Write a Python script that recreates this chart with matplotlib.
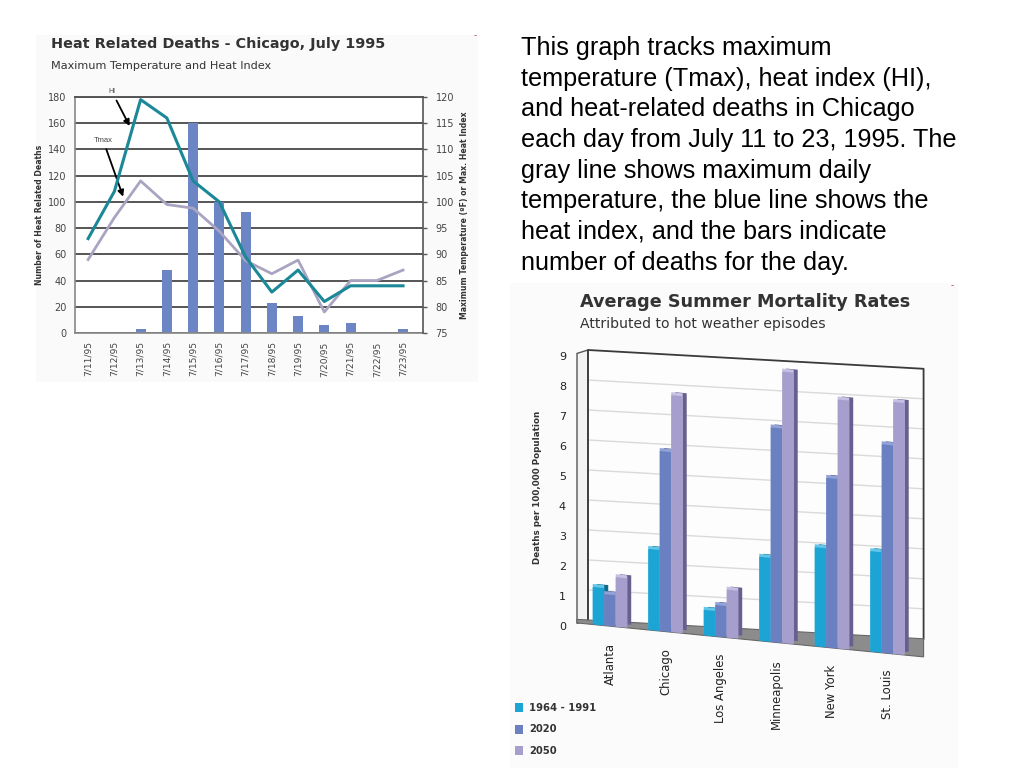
import numpy as np
import matplotlib
matplotlib.use("Agg")
import matplotlib.pyplot as plt
import matplotlib.transforms as mtransforms
from matplotlib.patches import Polygon, Patch, Rectangle

plt.rcParams['font.family'] = ['Liberation Sans', 'DejaVu Sans']

# ── chart 1: Chicago, July 1995 ───────────────────────────
days = ["7/11/95", "7/12/95", "7/13/95", "7/14/95", "7/15/95", "7/16/95", "7/17/95",
        "7/18/95", "7/19/95", "7/20/95", "7/21/95", "7/22/95", "7/23/95"]
deaths = [0, 0, 3, 48, 160, 100, 92, 23, 13, 6, 8, 0, 3]
heat_index = [93, 102, 119.5, 116, 104, 100, 89.5, 82.8, 87, 81, 84, 84, 84]
tmax = [89, 97, 104, 99.5, 98.8, 94.4, 88.8, 86.3, 88.9, 79, 85, 85, 87]

# ── chart 2: average summer mortality ─────────────────────
cities = ["Atlanta", "Chicago", "Los Angeles", "Minneapolis", "New York", "St. Louis"]
periods = ["1964 - 1991", "2020", "2050"]
rate_1964 = [1.25, 2.7, 0.85, 2.8, 3.3, 3.35]
rate_2020 = [1.05, 6.0, 1.05, 7.15, 5.65, 6.95]
rate_2050 = [1.65, 7.9, 1.6, 9.05, 8.3, 8.4]

caption = ("This graph tracks maximum\n"
           "temperature (Tmax), heat index (HI),\n"
           "and heat-related deaths in Chicago\n"
           "each day from July 11 to 23, 1995. The\n"
           "gray line shows maximum daily\n"
           "temperature, the blue line shows the\n"
           "heat index, and the bars indicate\n"
           "number of deaths for the day.")

W_PX, H_PX = 1024, 768
fig = plt.figure(figsize=(10.24, 7.68), dpi=100)
fig.patch.set_facecolor("white")


def fbox(x0, y0, x1, y1):
    """pixel box (top-left origin) -> figure fraction rect"""
    return [x0 / W_PX, 1 - y1 / H_PX, (x1 - x0) / W_PX, (y1 - y0) / H_PX]


def fx(x):
    return x / W_PX


def fy(y):
    return 1 - y / H_PX


# panel backgrounds
fig.patches.append(Rectangle((fx(36), fy(382)), fx(442), 347 / H_PX,
                             transform=fig.transFigure, facecolor="#fafafa",
                             edgecolor="none", zorder=-5))
fig.patches.append(Rectangle((fx(510), fy(768)), fx(448), 485 / H_PX,
                             transform=fig.transFigure, facecolor="#fbfbfb",
                             edgecolor="none", zorder=-5))

# ══════════════════════════════════════════════════════════
# left chart
# ══════════════════════════════════════════════════════════
fig.text(fx(51), fy(48), "Heat Related Deaths - Chicago, July 1995",
         family="DejaVu Sans", weight="bold", fontsize=10.4, color="#333", va="baseline")
fig.text(fx(51), fy(69), "Maximum Temperature and Heat Index",
         family="DejaVu Sans", fontsize=8.1, color="#333", va="baseline")

ax = fig.add_axes(fbox(75, 97, 423, 333))
ax.set_facecolor("white")
x = np.arange(len(days))
ax.bar(x, deaths, width=0.38, color="#6c85c4", zorder=2)
ax.set_xlim(-0.5, 12.76)
ax.set_ylim(0, 180)
ax.set_yticks(range(0, 181, 20))
ax.yaxis.grid(True, color="#555", lw=1.4, zorder=1)
ax.set_axisbelow(True)
ax.set_xticks(x)
ax.set_xticklabels(days, rotation=90, fontsize=6.6, color="#444", family="DejaVu Sans")
ax.tick_params(axis="x", length=0, pad=6)
ax.tick_params(axis="y", length=0, pad=6, labelsize=7, labelcolor="#444")
for lab in ax.get_yticklabels():
    lab.set_family("DejaVu Sans")
ax.set_ylabel("Number of Heat Related Deaths", fontsize=5.6, weight="bold",
              color="#333", labelpad=3, family="DejaVu Sans")
for s in ["left", "bottom"]:
    ax.spines[s].set_color("#888")
    ax.spines[s].set_linewidth(1.2)
ax.spines["top"].set_color("#555")
ax.spines["top"].set_linewidth(1.4)
ax.spines["right"].set_visible(False)

axt = ax.twinx()
axt.plot(x, tmax, color="#aaa4c2", lw=2.0, zorder=3)
axt.plot(x, heat_index, color="#1b8898", lw=2.2, zorder=4)
axt.set_ylim(75, 120)
axt.set_yticks(range(75, 121, 5))
axt.tick_params(axis="y", length=3, width=1, color="#555", pad=6,
                labelsize=7, labelcolor="#444")
for lab in axt.get_yticklabels():
    lab.set_family("DejaVu Sans")
axt.set_ylabel("Maximum Temperature (ºF) or Max. Heat Index", fontsize=5.6,
               weight="bold", color="#333", labelpad=4, family="DejaVu Sans")
axt.spines["right"].set_color("#555")
axt.spines["right"].set_linewidth(1.2)
for s in ["left", "bottom", "top"]:
    axt.spines[s].set_visible(False)

arrow = dict(arrowstyle="-|>", color="black", lw=1.3, mutation_scale=9)
ax.annotate("HI", xy=(1.63, 156), xytext=(0.91, 184), fontsize=5, color="#444",
            ha="center", va="center", arrowprops=arrow, annotation_clip=False, zorder=6)
ax.annotate("Tmax", xy=(1.37, 102), xytext=(0.57, 147), fontsize=5.5, color="#444",
            ha="center", va="center", arrowprops=arrow, annotation_clip=False, zorder=6)

# ══════════════════════════════════════════════════════════
# caption
# ══════════════════════════════════════════════════════════
fig.text(fx(521), fy(36), caption, fontsize=18.2, color="black", va="top",
         ha="left", linespacing=1.35, family="Liberation Sans")

# ══════════════════════════════════════════════════════════
# right chart (pseudo-3D)
# ══════════════════════════════════════════════════════════
fig.text(fx(580), fy(307), "Average Summer Mortality Rates", family="DejaVu Sans",
         weight="bold", fontsize=12.7, color="#333", va="baseline")
fig.text(fx(580), fy(328), "Attributed to hot weather episodes", family="DejaVu Sans",
         fontsize=10.1, color="#333", va="baseline")

L, R, T, B = 588, 917, 350, 620
ax2 = fig.add_axes(fbox(L, T, R, B))
ax2.set_axis_off()
gx = np.arange(len(cities))
ax2.set_xlim(-0.396, -0.396 + (R - L) / 55.5)
ax2.set_ylim(0, 9)
AW, AH = R - L, B - T

k_wall = 0.056 * AW / AH        # slope of back wall lines (axes units)
k_bar = 0.098 * AW / AH         # slope of bar baselines
off_bar = -4 / AH
shear_wall = mtransforms.Affine2D(np.array([[1, 0, 0], [-k_wall, 1, 0], [0, 0, 1]]))
shear_bar = mtransforms.Affine2D(np.array([[1, 0, 0], [-k_bar, 1, off_bar], [0, 0, 1]]))
to_ax = ax2.transScale + ax2.transLimits
tr_wall = to_ax + shear_wall + ax2.transAxes
tr_bar = to_ax + shear_bar + ax2.transAxes
tr_wall_ax = shear_wall + ax2.transAxes

# back wall
xr = 1.02
ax2.add_patch(Polygon([(0, 0), (0, 1), (xr, 1), (xr, 0)], closed=True,
                      transform=tr_wall_ax, facecolor="#fdfdfd", edgecolor="none",
                      clip_on=False, zorder=0))
for v in range(1, 9):
    ax2.plot([0, xr], [v / 9, v / 9], transform=tr_wall_ax, color="#dadada",
             lw=1.0, clip_on=False, zorder=1)
ax2.plot([0, 0, xr, xr], [0, 1, 1, 0], transform=tr_wall_ax, color="#3a3a3a",
         lw=1.3, clip_on=False, zorder=2)

# left side strip
sx = -11 / AW
ax2.add_patch(Polygon([(sx, -0.015), (sx, 0.985), (0, 1), (0, 0)], closed=True,
                      transform=tr_wall_ax, facecolor="#f2f2f2", edgecolor="#555",
                      lw=1.0, clip_on=False, zorder=1))

# floor
xs = np.array([sx, xr])
back = -k_wall * xs
front = off_bar - k_bar * xs
ax2.add_patch(Polygon([(xs[0], back[0]), (xs[1], back[1]), (xs[1], front[1]),
                       (xs[0], front[0])], closed=True, transform=ax2.transAxes,
                      facecolor="#8c8c8c", edgecolor="#666", lw=0.8,
                      clip_on=False, zorder=2))

# y tick labels (front of wall)
lab_tr = ax2.transData + mtransforms.ScaledTranslation(-22 / 100, -7 / 100, fig.dpi_scale_trans)
for v in range(10):
    ax2.text(ax2.get_xlim()[0], v, str(v), transform=lab_tr, ha="right", va="center",
             fontsize=8, color="#222", family="DejaVu Sans")
fig.text(fx(538), fy(487), "Deaths per 100,000 Population", rotation=90,
         ha="center", va="center", fontsize=6.3, weight="bold", color="#333",
         family="DejaVu Sans")

# bars
front_c = ["#1ca4d4", "#6b80c1", "#a69ecc"]
side_c = ["#0e6a8c", "#44538a", "#67608e"]
top_c = ["#63c6e8", "#93a2d6", "#c7c0e2"]
bw = 0.207
depth = mtransforms.ScaledTranslation(4 / 100, 3 / 100, fig.dpi_scale_trans)
lift = mtransforms.ScaledTranslation(0, 3 / 100, fig.dpi_scale_trans)
series = [rate_1964, rate_2020, rate_2050]
for j, vals in enumerate(series):
    xpos = gx + (j - 1) * bw
    z = 3 + j
    ax2.bar(xpos, vals, width=bw, color=side_c[j], transform=tr_bar + depth,
            clip_on=False, zorder=z)
    ax2.bar(xpos, vals, width=bw, color=top_c[j], transform=tr_bar + lift,
            clip_on=False, zorder=z)
    ax2.bar(xpos, vals, width=bw, color=front_c[j], transform=tr_bar,
            clip_on=False, zorder=z)

for i, c in enumerate(cities):
    ax2.text(gx[i], -0.55, c, transform=tr_bar, rotation=90, ha="center", va="top",
             fontsize=8.4, color="#222", family="DejaVu Sans", clip_on=False)

handles = [Patch(facecolor=c, edgecolor="none") for c in front_c]
fig.legend(handles, periods, loc="upper left", bbox_to_anchor=(fx(515), fy(703)),
           frameon=False, handlelength=0.8, handleheight=1.0,
           handletextpad=0.6, labelspacing=1.15, borderaxespad=0, borderpad=0,
           prop={"family": "DejaVu Sans", "size": 7.2, "weight": "bold"},
           labelcolor="#333")

# small red marks in the panel corners
fig.text(fx(474), fy(38), "-", color="#d04040", fontsize=7)
fig.text(fx(951), fy(288), "-", color="#d04040", fontsize=7)

fig.savefig("out.png", dpi=100)
